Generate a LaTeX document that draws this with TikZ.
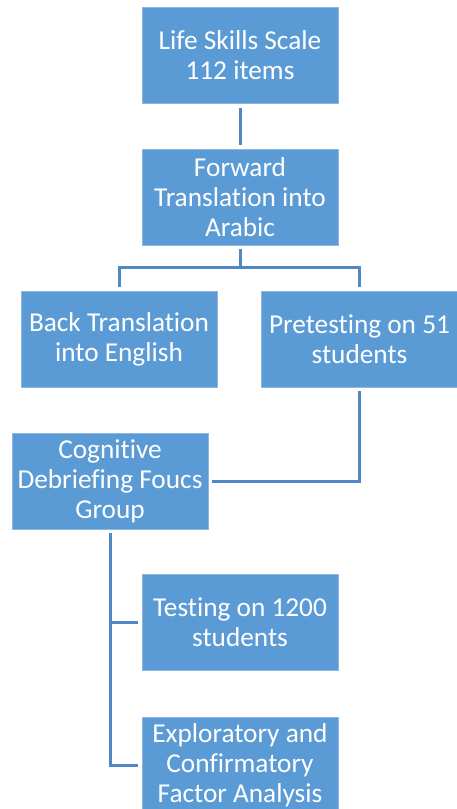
\documentclass[tikz,border=0pt]{standalone}
\usepackage{fontspec}
\setmainfont{Carlito}[RawFeature={-liga;-clig;-dlig}]
\definecolor{boxblue}{HTML}{5B9BD5}
\definecolor{boxedge}{HTML}{8DB8E2}
\definecolor{lineblue}{HTML}{4F88C2}
\begin{document}
\begin{tikzpicture}[x=1pt,y=-1pt,
  stepbox/.style={rectangle, fill=boxblue, draw=boxedge, line width=0.6pt,
    minimum width=196pt, minimum height=96pt, inner sep=0pt,
    align=center, text=white, font=\fontsize{27.3}{30}\selectfont},
  conn/.style={draw=lineblue, line width=3pt, shorten <=4pt, shorten >=4pt}]
\useasboundingbox (0,0) rectangle (456,809);
\node[stepbox] (B1) at (240,55.5) {Life Skills Scale\\112 items};
\node[stepbox] (B2) at (240,197) {Forward\\Translation into\\Arabic};
\node[stepbox] (B3) at (119,339) {Back Translation\\into English};
\node[stepbox] (B4) at (359.5,339) {Pretesting on 51\\students};
\node[stepbox] (B5) at (110,481) {Cognitive\\Debriefing Foucs\\Group};
\node[stepbox] (B6) at (240,622.5) {Testing on 1200\\students};
\node[stepbox] (B7) at (240,765) {Exploratory and\\Confirmatory\\Factor Analysis};
\draw[conn] (B1.south) -- (B2.north);
\draw[conn] (B2.south) -- ++(0,22) -| (B3.north);
\draw[conn] (B2.south) -- ++(0,22) -| (B4.north);
\draw[conn] (B4.south) |- (B5.east);
\draw[conn] (B5.south) |- (B6.west);
\draw[conn] (B5.south) |- (B7.west);
\end{tikzpicture}
\end{document}
